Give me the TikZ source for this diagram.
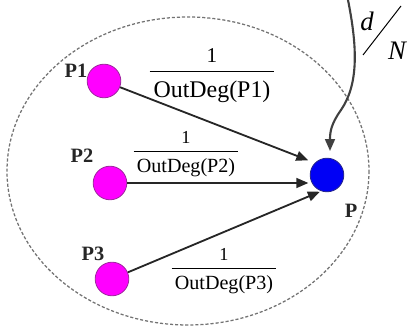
\documentclass[tikz,border=0pt]{standalone}
\usepackage{fontspec}
\setmainfont{Liberation Serif}
\usetikzlibrary{arrows.meta}
\definecolor{pagemag}{RGB}{255,0,255}
\definecolor{pageedge}{RGB}{160,40,160}
\definecolor{targetblue}{RGB}{0,0,245}
\definecolor{targetedge}{RGB}{40,40,140}
\setlength{\arrayrulewidth}{0.6pt}
\newcommand{\degfrac}[2]{\begin{tabular}{@{\,}c@{\,}}{\fontsize{#1}{#1}\selectfont 1}\\\hline\rule{0pt}{1.05em}#2\end{tabular}}

\begin{document}
\begin{tikzpicture}[x=0.025cm,y=-0.025cm,
    page/.style={circle,draw=pageedge,line width=0.6pt,fill=pagemag,minimum size=0.84cm,inner sep=0pt},
    target/.style={page,draw=targetedge,fill=targetblue},
    lbl/.style={font=\bfseries\fontsize{14.5}{16}\selectfont,text=black!85,inner sep=0pt},
    link/.style={line width=1.3pt,black!85,-{Triangle[length=8.5pt,width=7pt]}},
    bigfrac/.style={font=\fontsize{17}{20.4}\selectfont,inner sep=0pt},
    smallfrac/.style={font=\fontsize{14.3}{17.2}\selectfont,inner sep=0pt},
    dnfont/.style={font=\itshape\fontsize{19}{20}\selectfont,inner sep=0pt}]
  \useasboundingbox (0,0) rectangle (409,334);
  \draw[black!55,line width=0.9pt,dash pattern=on 2.2pt off 1.4pt] (188,171) ellipse [x radius=181,y radius=154];
  \node[page] (p1) at (104,81) {};
  \node[page] (p2) at (110,183) {};
  \node[page] (p3) at (112,279) {};
  \node[target] (p) at (327,175) {};
  \node[lbl] (l1) at (76,71) {P1};
  \node[lbl] (l2) at (82,156) {P2};
  \node[lbl] (l3) at (93,254) {P3};
  \node[lbl] (lp) at (351,211) {P};
  \draw[link,shorten >=5pt] (p1) -- (p.135);
  \draw[link,shorten >=1pt] (p2) -- (p2 -| p.west);
  \draw[link,shorten >=1pt] (p3) -- (p.250);
  \node[bigfrac] (f1) at (212,74) {\degfrac{15}{OutDeg(P1)}};
  \node[smallfrac] (f2) at (186,153.5) {\degfrac{13}{OutDeg(P2)}};
  \node[smallfrac] (f3) at (224,270.5) {\degfrac{13}{OutDeg(P3)}};
  \coordinate (dn) at (348,0);
  \draw[line width=1.5pt,black!75,-{Triangle[length=8.5pt,width=7pt]},shorten >=5pt]
    (dn) .. controls (358,50) and (358,85) .. (341,110) .. controls (331,124) and (330,132) .. (p.80);
  \node[dnfont] (d) at (367,21) {d};
  \node[dnfont] (n) at (397,51) {N};
  \draw[line width=0.7pt] (363,55) -- (401,6);
\end{tikzpicture}
\end{document}
